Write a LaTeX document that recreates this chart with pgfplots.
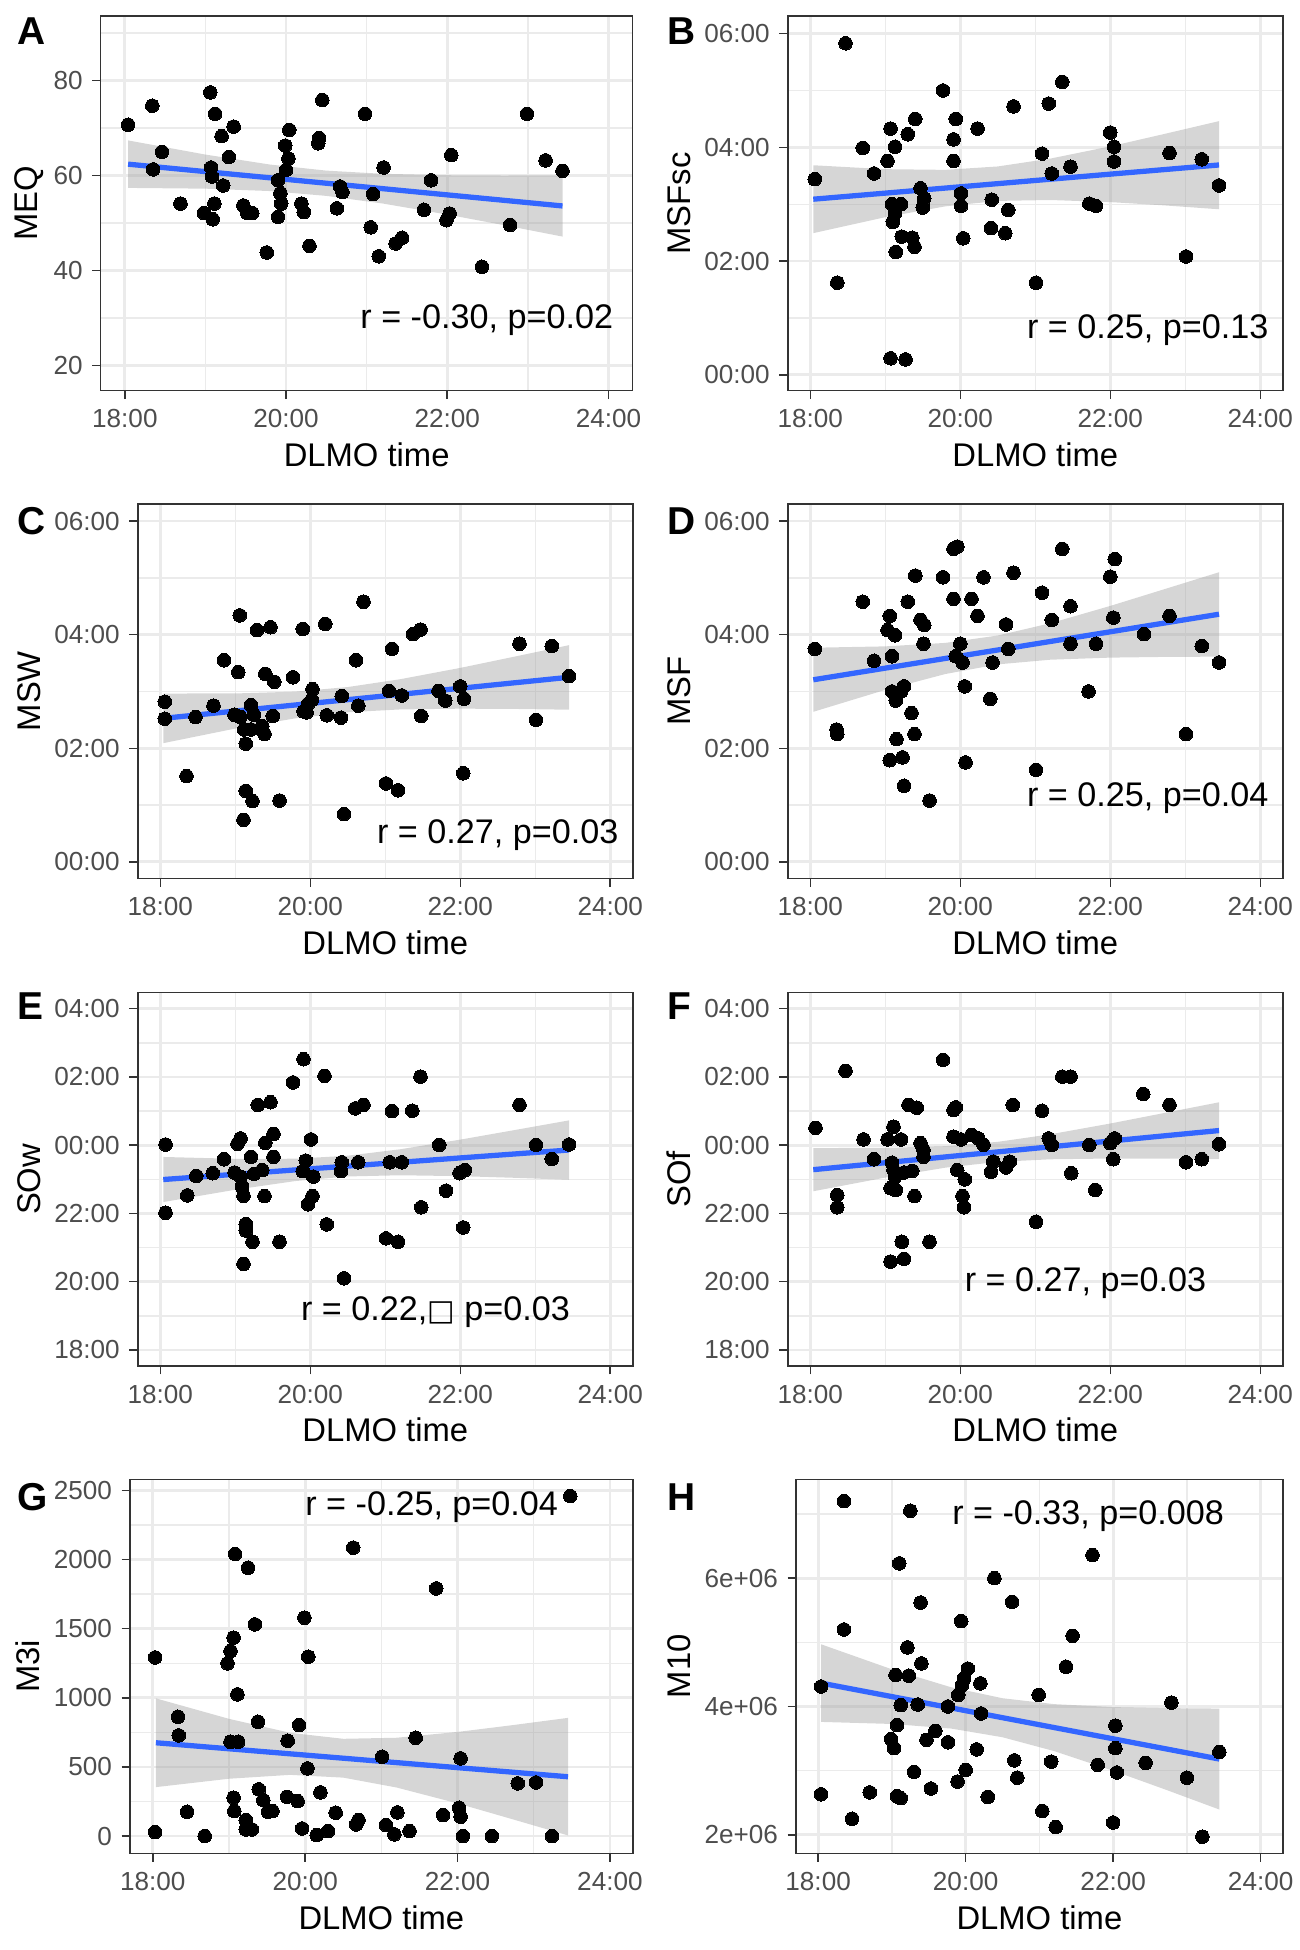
\documentclass[border=0pt]{standalone}
\usepackage{pgfplots}
\pgfplotsset{compat=1.18}
\usepackage{fontspec}
\setmainfont{Liberation Sans}
\newfontfamily\dejavu{DejaVu Sans}
\definecolor{gridc}{HTML}{EBEBEB}
\definecolor{borderc}{HTML}{333333}
\definecolor{tickc}{HTML}{4D4D4D}
\definecolor{smoothc}{HTML}{3366FF}
\definecolor{bandc}{HTML}{999999}
\pgfplotsset{
 panel/.style={
  scale only axis, anchor=south west,
  xmin=17.7, xmax=24.3,
  xtick={18,20,22,24}, xticklabels={18:00,20:00,22:00,24:00},
  minor xtick={19,21,23},
  grid=both,
  major grid style={draw=gridc, line width=1.0pt},
  minor grid style={draw=gridc, line width=0.5pt},
  axis line style={draw=borderc, line width=0.55pt},
  tick style={draw=borderc, line width=0.55pt},
  tick align=outside,
  major tick length=3pt, minor tick length=0pt,
  tick pos=left,
  tick label style={font=\fontsize{9.4}{11}\selectfont, text=tickc, inner sep=0pt},
  xticklabel style={yshift=-3.6pt},
  yticklabel style={xshift=-3.3pt},
  xlabel={DLMO time},
  xlabel style={font=\fontsize{11.8}{13}\selectfont, at={(axis description cs:0.5,0)}, anchor=north, yshift=-18.6pt, inner sep=0pt},
  ylabel style={font=\fontsize{11.8}{13}\selectfont, anchor=center, inner sep=0pt},
  scaled y ticks=false,
 },
 band/.style={fill=bandc, fill opacity=0.4, draw=none},
 fit/.style={draw=smoothc, line width=1.9pt},
 pts/.style={only marks, mark=*, mark size=2.45pt, mark options={fill=black, draw=black, line width=0pt}},
}
\tikzset{letter/.style={font=\bfseries\fontsize{14}{16}\selectfont, anchor=west, inner sep=0pt},
 ann/.style={font=\fontsize{12.3}{14}\selectfont, text=black, anchor=center, inner sep=0pt}}
\begin{document}
\begin{tikzpicture}
\path[use as bounding box] (0,0) rectangle (468pt,-702pt);
% ---------- A
\begin{axis}[panel, at={(36.25pt,-140.65pt)}, width=191.5pt, height=134.9pt,
  ymin=14.7, ymax=93.6, ytick={20,40,60,80}, yticklabels={20,40,60,80}, minor ytick={30,50,70,90},
  ylabel={MEQ}, ylabel style={at={(axis description cs:-0.1348,0.5)}}]
\addplot[band] coordinates {(18.04,67.4)(19.0,64.42)(19.8,62.32)(20.5,61.04)(21.2,60.37)(22.0,60.07)(22.7,60.01)(23.43,60.05)(23.43,47.15)(22.7,49.57)(22.0,51.79)(21.2,54.11)(20.5,55.72)(19.8,56.74)(19.0,57.24)(18.04,57.4)};
\addplot[fit] coordinates {(18.04,62.4)(23.43,53.6)};
\addplot[pts] coordinates {(18.04,70.7)(18.34,74.7)(18.35,61.3)(18.46,65.0)(18.69,54.1)(18.98,52.1)(19.06,77.5)(19.07,61.7)(19.08,59.8)(19.09,50.8)(19.11,54.1)(19.12,73.0)(19.2,68.3)(19.22,57.9)(19.29,63.9)(19.35,70.3)(19.47,53.7)(19.52,52.1)(19.58,52.1)(19.76,43.8)(19.90,59.0)(19.90,51.3)(19.93,56.3)(19.94,54.1)(19.99,66.3)(20.0,61.2)(20.03,63.6)(20.04,69.6)(20.19,54.1)(20.22,52.3)(20.29,45.2)(20.40,66.8)(20.41,67.9)(20.45,75.9)(20.63,53.1)(20.67,57.7)(20.70,56.5)(20.98,73.0)(21.05,49.1)(21.08,56.1)(21.15,43.0)(21.21,61.7)(21.36,45.7)(21.44,46.9)(21.71,52.8)(21.80,59.0)(21.99,50.6)(22.03,52.0)(22.05,64.3)(22.43,40.8)(22.78,49.6)(22.99,73.0)(23.22,63.2)(23.43,61.0)};
\node[ann] at (axis cs:22.49,29.6) {r = -0.30, p=0.02};
\end{axis}
% ---------- B
\begin{axis}[panel, at={(283.6pt,-140.65pt)}, width=178.2pt, height=134.9pt,
  ymin=-0.28, ymax=6.31, ytick={0,2,4,6}, yticklabels={00:00,02:00,04:00,06:00}, minor ytick={1,3,5},
  ylabel={MSFsc}, ylabel style={at={(axis description cs:-0.2197,0.5)}}]
\addplot[band] coordinates {(18.04,3.685)(19.0,3.616)(19.8,3.604)(20.5,3.664)(21.2,3.802)(22.0,4.017)(22.7,4.229)(23.45,4.461)(23.45,2.911)(22.7,2.981)(22.0,3.037)(21.2,3.074)(20.5,3.058)(19.8,2.962)(19.0,2.772)(18.04,2.491)};
\addplot[fit] coordinates {(18.04,3.088)(23.45,3.69)};
\addplot[pts] coordinates {(18.06,3.44)(18.36,1.62)(18.47,5.83)(18.70,3.99)(18.85,3.54)(19.03,3.76)(19.07,4.33)(19.07,0.29)(19.09,3.0)(19.10,2.69)(19.13,4.01)(19.13,2.84)(19.14,2.16)(19.21,3.0)(19.22,2.43)(19.27,0.27)(19.30,4.23)(19.36,2.41)(19.39,2.25)(19.40,4.50)(19.47,3.28)(19.52,3.10)(19.50,2.94)(19.77,5.0)(19.91,4.14)(19.91,3.76)(19.94,4.50)(20.01,3.19)(20.01,2.97)(20.04,2.40)(20.23,4.33)(20.41,2.58)(20.42,3.08)(20.60,2.49)(20.64,2.90)(20.71,4.72)(21.01,1.62)(21.09,3.89)(21.18,4.77)(21.22,3.54)(21.36,5.15)(21.47,3.66)(21.72,3.01)(21.81,2.97)(22.0,4.26)(22.05,4.01)(22.05,3.75)(22.79,3.90)(23.01,2.08)(23.22,3.79)(23.45,3.33)};
\node[ann] at (axis cs:22.5,0.79) {r = 0.25, p=0.13};
\end{axis}
% ---------- C
\begin{axis}[panel, at={(49.6pt,-316.2pt)}, width=178.2pt, height=134.75pt,
  ymin=-0.29, ymax=6.30, ytick={0,2,4,6}, yticklabels={00:00,02:00,04:00,06:00}, minor ytick={1,3,5},
  ylabel={MSW}, ylabel style={at={(axis description cs:-0.2197,0.5)}}]
\addplot[band] coordinates {(18.04,2.964)(19.0,2.965)(19.8,2.997)(20.5,3.078)(21.2,3.216)(22.0,3.415)(22.7,3.607)(23.45,3.815)(23.45,2.679)(22.7,2.693)(22.0,2.697)(21.2,2.684)(20.5,2.634)(19.8,2.527)(19.0,2.347)(18.04,2.090)};
\addplot[fit] coordinates {(18.04,2.527)(23.45,3.25)};
\addplot[pts] coordinates {(18.06,2.82)(18.06,2.52)(18.35,1.51)(18.47,2.55)(18.71,2.75)(18.85,3.55)(18.99,2.59)(19.04,3.34)(19.06,4.34)(19.07,2.55)(19.11,0.74)(19.12,2.33)(19.14,2.08)(19.14,1.25)(19.21,2.76)(19.21,2.33)(19.23,1.07)(19.25,2.59)(19.29,4.08)(19.36,2.39)(19.39,2.25)(19.40,3.31)(19.47,4.13)(19.50,2.57)(19.52,3.17)(19.59,1.08)(19.77,3.25)(19.90,4.10)(19.91,2.65)(19.95,2.63)(19.97,2.78)(20.02,2.85)(20.03,3.04)(20.20,4.19)(20.22,2.58)(20.41,2.54)(20.42,2.92)(20.45,0.84)(20.61,3.55)(20.64,2.75)(20.71,4.58)(21.01,1.38)(21.05,3.01)(21.09,3.75)(21.17,1.26)(21.22,2.93)(21.37,4.01)(21.47,4.09)(21.48,2.57)(21.71,3.01)(21.80,2.84)(22.00,3.09)(22.05,2.87)(22.04,1.56)(22.79,3.84)(23.01,2.50)(23.22,3.80)(23.45,3.27)};
\node[ann] at (axis cs:22.5,0.475) {r = 0.27, p=0.03};
\end{axis}
% ---------- D
\begin{axis}[panel, at={(283.6pt,-316.2pt)}, width=178.2pt, height=134.75pt,
  ymin=-0.29, ymax=6.30, ytick={0,2,4,6}, yticklabels={00:00,02:00,04:00,06:00}, minor ytick={1,3,5},
  ylabel={MSF}, ylabel style={at={(axis description cs:-0.2197,0.5)}}]
\addplot[band] coordinates {(18.04,3.770)(19.0,3.794)(19.8,3.855)(20.5,3.985)(21.2,4.201)(22.0,4.506)(22.7,4.792)(23.45,5.099)(23.45,3.613)(22.7,3.608)(22.0,3.596)(21.2,3.559)(20.5,3.477)(19.8,3.307)(19.0,3.028)(18.04,2.642)};
\addplot[fit] coordinates {(18.04,3.206)(23.45,4.36)};
\addplot[pts] coordinates {(18.06,3.75)(18.35,2.33)(18.36,2.25)(18.70,4.58)(18.85,3.54)(19.03,4.08)(19.06,4.33)(19.06,1.79)(19.09,3.62)(19.09,3.00)(19.13,3.99)(19.14,2.84)(19.15,2.16)(19.21,3.00)(19.23,1.84)(19.25,3.09)(19.25,1.34)(19.30,4.58)(19.35,2.62)(19.39,2.25)(19.40,5.04)(19.47,4.26)(19.52,4.17)(19.51,3.84)(19.59,1.08)(19.77,5.01)(19.91,4.63)(19.91,5.51)(19.96,5.55)(19.94,3.62)(20.0,3.84)(20.03,3.51)(20.06,3.09)(20.07,1.75)(20.15,4.63)(20.23,4.33)(20.31,5.01)(20.40,2.87)(20.43,3.51)(20.61,4.18)(20.64,3.75)(20.71,5.09)(21.01,1.62)(21.09,4.74)(21.22,4.26)(21.36,5.51)(21.47,4.50)(21.47,3.84)(21.71,3.00)(21.81,3.84)(22.0,5.02)(22.06,5.33)(22.04,4.30)(22.45,4.01)(22.79,4.33)(23.01,2.25)(23.22,3.80)(23.45,3.51)};
\node[ann] at (axis cs:22.5,1.12) {r = 0.25, p=0.04};
\end{axis}
% ---------- E
\begin{axis}[panel, at={(49.6pt,-491.76pt)}, width=178.2pt, height=134.4pt,
  ymin=17.53, ymax=28.47, ytick={18,20,22,24,26,28}, yticklabels={18:00,20:00,22:00,00:00,02:00,04:00}, minor ytick={19,21,23,25,27},
  ylabel={SOw}, ylabel style={at={(axis description cs:-0.2197,0.5)}}]
\addplot[band] coordinates {(18.04,23.656)(19.0,23.602)(19.8,23.604)(20.5,23.693)(21.2,23.882)(22.0,24.164)(22.7,24.435)(23.45,24.728)(23.45,22.988)(22.7,23.047)(22.0,23.094)(21.2,23.120)(20.5,23.085)(19.8,22.950)(19.0,22.696)(18.04,22.334)};
\addplot[fit] coordinates {(18.04,22.995)(23.45,23.86)};
\addplot[pts] coordinates {(18.07,24.02)(18.07,22.02)(18.36,22.53)(18.48,23.10)(18.70,23.18)(18.85,23.59)(18.99,23.20)(19.03,24.04)(19.07,24.20)(19.07,23.08)(19.09,22.79)(19.11,22.52)(19.14,21.69)(19.14,21.50)(19.11,20.52)(19.21,23.66)(19.23,21.17)(19.25,23.16)(19.30,25.18)(19.36,23.27)(19.39,22.51)(19.40,24.07)(19.47,25.26)(19.51,24.33)(19.51,23.66)(19.59,21.17)(19.77,25.84)(19.91,26.52)(19.94,23.55)(19.90,23.24)(19.97,22.27)(20.01,24.17)(20.03,22.51)(20.04,23.08)(20.19,26.03)(20.22,21.68)(20.41,23.24)(20.42,23.50)(20.45,20.10)(20.60,25.08)(20.64,23.50)(20.71,25.18)(21.01,21.27)(21.06,23.50)(21.09,25.00)(21.17,21.17)(21.22,23.50)(21.36,25.01)(21.47,26.01)(21.48,22.18)(21.72,24.01)(21.81,22.67)(21.99,23.18)(22.06,23.27)(22.04,21.59)(22.79,25.18)(23.01,24.01)(23.22,23.60)(23.45,24.02)};
\node[ann] at (axis cs:21.67,19.12) {r = 0.22,{\dejavu\fontsize{10.5}{12}\selectfont □} p=0.03};
\end{axis}
% ---------- F
\begin{axis}[panel, at={(283.6pt,-491.76pt)}, width=178.2pt, height=134.4pt,
  ymin=17.53, ymax=28.47, ytick={18,20,22,24,26,28}, yticklabels={18:00,20:00,22:00,00:00,02:00,04:00}, minor ytick={19,21,23,25,27},
  ylabel={SOf}, ylabel style={at={(axis description cs:-0.2197,0.5)}}]
\addplot[band] coordinates {(18.04,23.917)(19.0,23.922)(19.8,23.972)(20.5,24.099)(21.2,24.320)(22.0,24.636)(22.7,24.936)(23.45,25.258)(23.45,23.594)(22.7,23.608)(22.0,23.610)(21.2,23.588)(20.5,23.511)(19.8,23.342)(19.0,23.052)(18.04,22.651)};
\addplot[fit] coordinates {(18.04,23.284)(23.45,24.43)};
\addplot[pts] coordinates {(18.07,24.51)(18.36,22.54)(18.36,22.18)(18.47,26.18)(18.71,24.17)(18.85,23.59)(19.03,24.17)(19.07,20.59)(19.07,22.74)(19.09,23.49)(19.11,24.54)(19.11,23.27)(19.13,23.08)(19.14,22.69)(19.21,24.17)(19.22,21.17)(19.25,23.20)(19.25,20.67)(19.31,25.18)(19.36,23.25)(19.39,22.51)(19.42,25.10)(19.47,24.06)(19.51,23.86)(19.51,23.66)(19.59,21.17)(19.77,26.50)(19.91,25.03)(19.94,25.11)(19.91,24.25)(19.96,23.27)(20.01,24.17)(20.06,23.0)(20.03,22.51)(20.05,22.18)(20.15,24.30)(20.24,24.20)(20.31,24.01)(20.41,23.22)(20.44,23.52)(20.61,23.35)(20.66,23.52)(20.70,25.18)(21.01,21.76)(21.09,25.01)(21.18,24.20)(21.22,24.01)(21.36,26.01)(21.47,26.01)(21.48,23.18)(21.72,24.01)(21.80,22.69)(22.0,24.06)(22.06,24.20)(22.04,23.59)(22.44,25.50)(22.79,25.18)(23.01,23.50)(23.22,23.59)(23.45,24.03)};
\node[ann] at (axis cs:21.67,19.95) {r = 0.27, p=0.03};
\end{axis}
% ---------- G
\begin{axis}[panel, at={(46.8pt,-667.2pt)}, width=181.0pt, height=134.64pt,
  ymin=-125, ymax=2580, ytick={0,500,1000,1500,2000,2500}, yticklabels={0,500,1000,1500,2000,2500}, minor ytick={250,750,1250,1750,2250},
  ylabel={M3i}, ylabel style={at={(axis description cs:-0.2025,0.5)}}]
\addplot[band] coordinates {(18.04,996)(19.0,847.9)(19.8,747.1)(20.5,703.5)(21.2,711.2)(22.0,753.1)(22.7,800.8)(23.45,854.9)(23.45,4.7)(22.7,125.2)(22.0,236.5)(21.2,351.2)(20.5,422.7)(19.8,442.7)(19.0,414.7)(18.04,354)};
\addplot[fit] coordinates {(18.04,675)(23.45,429)};
\addplot[pts] coordinates {(18.03,1292)(18.03,29)(18.33,863)(18.34,728)(18.45,176)(18.68,0)(18.98,1249)(19.02,1338)(19.02,682)(19.06,1435)(19.06,277)(19.07,181)(19.08,2040)(19.11,1025)(19.12,682)(19.22,116)(19.22,48)(19.25,1941)(19.30,48)(19.34,1531)(19.38,827)(19.39,338)(19.45,260)(19.51,176)(19.57,181)(19.76,284)(19.77,690)(19.90,253)(19.92,803)(19.96,55)(19.99,1579)(20.03,489)(20.04,1297)(20.15,7)(20.20,316)(20.30,36)(20.40,169)(20.63,2086)(20.67,84)(20.70,116)(21.01,574)(21.06,80)(21.17,12)(21.21,171)(21.37,36)(21.45,711)(21.72,1791)(21.81,152)(22.02,205)(22.04,562)(22.04,140)(22.07,0)(22.45,0)(22.79,381)(23.03,388)(23.24,0)(23.48,2459)};
\node[ann] at (axis cs:21.66,2382) {r = -0.25, p=0.04};
\end{axis}
% ---------- H
\begin{axis}[panel, at={(286.56pt,-667.2pt)}, width=175.25pt, height=134.64pt,
  ymin=1.71, ymax=7.54, ytick={2,4,6}, yticklabels={2e+06,4e+06,6e+06}, minor ytick={3,5,7},
  ylabel={M10}, ylabel style={at={(axis description cs:-0.2403,0.5)}}]
\addplot[band] coordinates {(18.04,4.969)(19.0,4.579)(19.8,4.300)(20.5,4.128)(21.2,4.036)(22.0,3.990)(22.7,3.974)(23.44,3.967)(23.44,2.393)(22.7,2.708)(22.0,2.998)(21.2,3.304)(20.5,3.520)(19.8,3.656)(19.0,3.727)(18.04,3.759)};
\addplot[fit] coordinates {(18.04,4.364)(23.44,3.18)};
\addplot[pts] coordinates {(18.04,4.31)(18.04,2.63)(18.35,7.20)(18.35,5.20)(18.46,2.25)(18.70,2.66)(18.99,3.49)(19.03,3.35)(19.05,4.49)(19.07,3.71)(19.07,2.60)(19.10,6.23)(19.12,4.02)(19.12,2.57)(19.21,4.92)(19.23,4.48)(19.25,7.05)(19.30,2.98)(19.35,4.03)(19.39,5.62)(19.40,4.67)(19.47,3.48)(19.53,2.72)(19.59,3.62)(19.76,4.0)(19.76,3.44)(19.89,2.83)(19.90,4.18)(19.94,5.33)(19.95,4.33)(19.98,4.44)(20.0,3.01)(20.03,4.59)(20.15,3.33)(20.20,4.36)(20.21,3.89)(20.30,2.59)(20.39,6.0)(20.63,5.63)(20.66,3.16)(20.70,2.89)(20.99,4.18)(21.04,2.37)(21.16,3.14)(21.22,2.12)(21.36,4.62)(21.45,5.10)(21.72,6.36)(21.79,3.09)(22.0,2.19)(22.03,3.70)(22.03,3.35)(22.05,2.97)(22.44,3.12)(22.79,4.06)(23.0,2.89)(23.21,1.97)(23.44,3.29)};
\node[ann] at (axis cs:21.66,6.96) {r = -0.33, p=0.008};
\end{axis}
% ---------- panel letters
\node[letter] at (5.98pt,-11.1pt) {A};
\node[letter] at (240pt,-11.1pt) {B};
\node[letter] at (5.98pt,-187.5pt) {C};
\node[letter] at (240pt,-187.5pt) {D};
\node[letter] at (5.98pt,-362.1pt) {E};
\node[letter] at (240pt,-362.1pt) {F};
\node[letter] at (5.98pt,-538.8pt) {G};
\node[letter] at (240pt,-538.8pt) {H};
\end{tikzpicture}
\end{document}
